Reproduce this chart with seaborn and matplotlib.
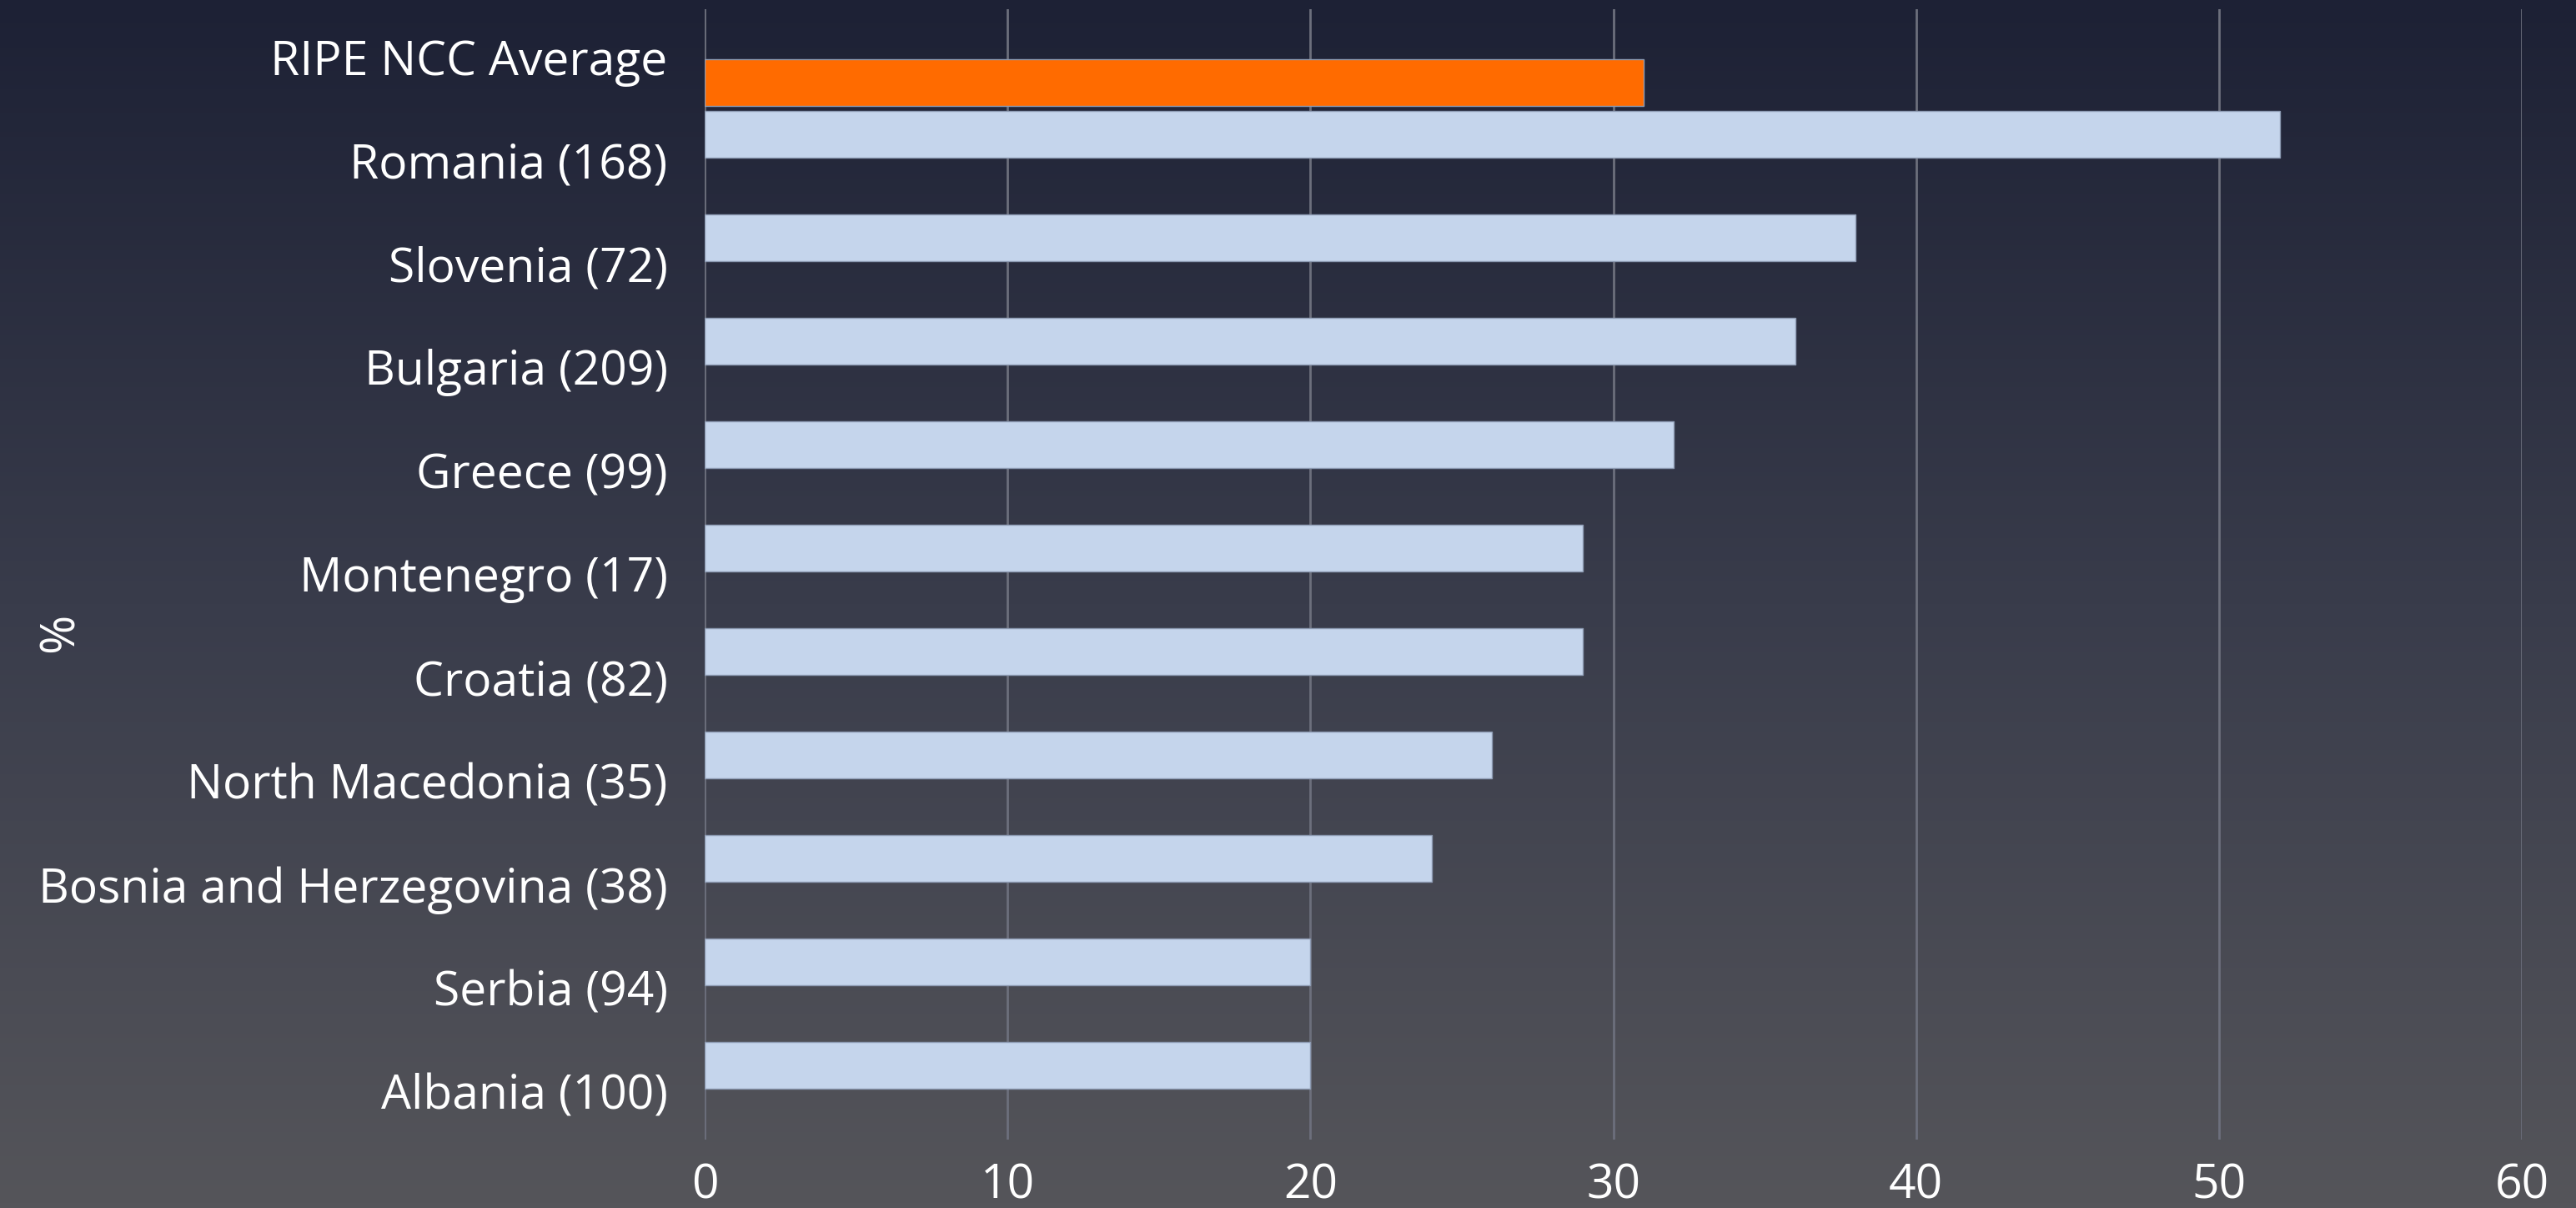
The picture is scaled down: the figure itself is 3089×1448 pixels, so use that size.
import numpy as np
import pandas as pd
import matplotlib.pyplot as plt
import matplotlib.colors as mcolors
import seaborn as sns

categories = ['RIPE NCC Average', 'Romania (168)', 'Slovenia (72)', 'Bulgaria (209)',
              'Greece (99)', 'Montenegro (17)', 'Croatia (82)', 'North Macedonia (35)',
              'Bosnia and Herzegovina (38)', 'Serbia (94)', 'Albania (100)']
values = [31, 52, 38, 36, 32, 29, 29, 26, 24, 20, 20]
series = ['Average'] + ['Country'] * (len(categories) - 1)
series_order = ['Country', 'Average']
series_colors = {'Country': '#C5D5EC', 'Average': '#FF6B00'}
x_ticks = [0, 10, 20, 30, 40, 50, 60]

df = pd.DataFrame({'label': categories, 'value': values, 'series': series})

sns.set_theme(style='white')
plt.rcParams['font.family'] = ['Open Sans', 'DejaVu Sans']

fig = plt.figure(figsize=(30.89, 14.48), dpi=100)

# gradient background
bg = fig.add_axes([0, 0, 1, 1])
cmap = mcolors.LinearSegmentedColormap.from_list('bg', ['#1d2135', '#393c4b', '#55555a'])
grad = np.linspace(0, 1, 256).reshape(-1, 1)
bg.imshow(grad, aspect='auto', cmap=cmap, extent=[0, 1, 0, 1], origin='upper')
bg.set_axis_off()

ax = fig.add_axes([0.2736, 0.0566, 0.7054, 0.9358])
ax.patch.set_alpha(0)
sns.barplot(data=df, x='value', y='label', hue='series', hue_order=series_order,
            palette=series_colors, order=categories, dodge=True, width=1.0, gap=0.088,
            saturation=1, legend=False, ax=ax, edgecolor='#8d9bb3', linewidth=1.0, zorder=3)

ax.set_xlim(0, 60)
ax.set_ylim(10.47, -0.46)
ax.set_xticks(x_ticks)
ax.grid(axis='x', color='#6c6f7c', linewidth=2, zorder=0)
ax.set_axisbelow(True)
for s in ax.spines.values():
    s.set_visible(False)
ax.tick_params(axis='both', length=0, labelcolor='white', labelsize=41)
ax.tick_params(axis='y', pad=32)
ax.tick_params(axis='x', pad=20)
ax.set_xlabel('')
ax.set_ylabel('')

fig.text(73 / 3089, 1 - 758 / 1448, '%', rotation=90, color='white', fontsize=41,
         ha='center', va='center')

fig.savefig('out.png', dpi=100)
